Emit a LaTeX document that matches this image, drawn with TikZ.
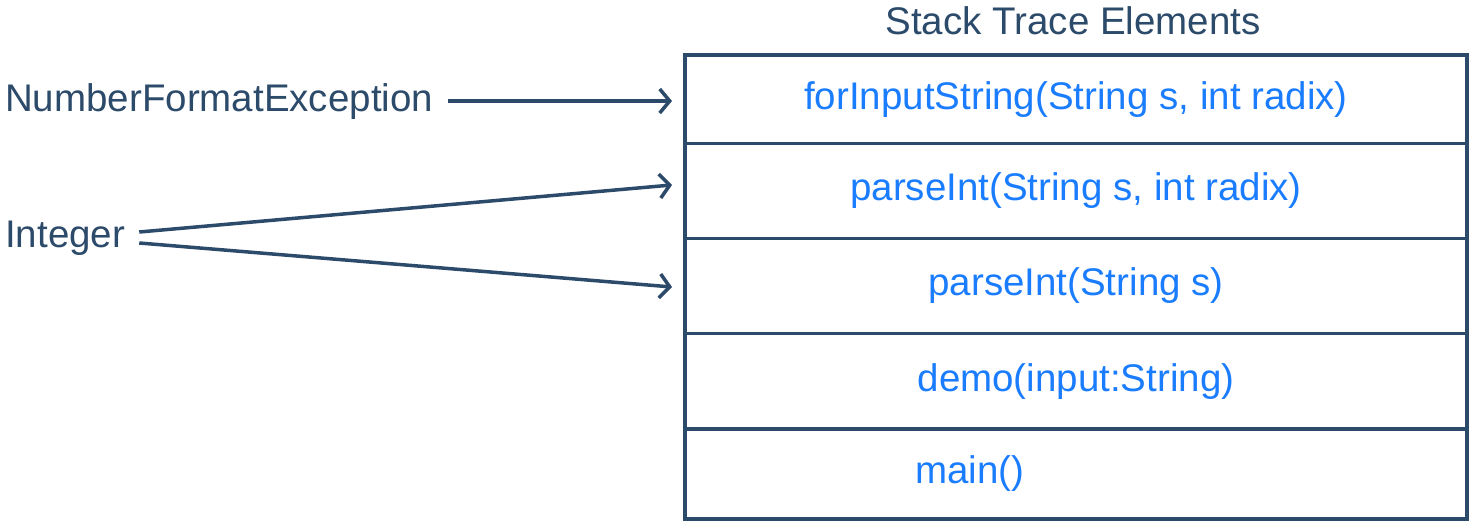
\documentclass[tikz,border=0pt]{standalone}
\usepackage{fontspec}
\setmainfont{Liberation Sans}
\usetikzlibrary{arrows.meta}
\definecolor{navy}{HTML}{2C4A6A}
\definecolor{callblue}{HTML}{1A7CFF}

\begin{document}
\begin{tikzpicture}[x=1pt,y=-1pt,font=\fontsize{38.5}{46}\selectfont,
  row/.style={draw=navy, line width=3.5pt, minimum width=782pt, inner sep=0pt, text=callblue},
  call/.style={text=callblue, inner sep=0pt},
  lbl/.style={text=navy, inner sep=0pt},
  link/.style={draw=navy, line width=3.5pt, -{Straight Barb[length=10pt,width=24pt]}}]
\useasboundingbox (0,0) rectangle (1474,529);
% stack frames
\node [lbl] (title) at (1073,21) {Stack Trace Elements};
\node [row, minimum height=88.5pt] (r1) at (1076,99.25) {forInputString(String s, int radix)};
\node [row, minimum height=95pt] (r2) at (1076,191) {parseInt(String s, int radix)};
\node [row, minimum height=95pt] (r3) at (1076,286) {parseInt(String s)};
\node [row, minimum height=95.5pt] (r4) at (1076,381.25) {demo(input:String)};
\node [row, minimum height=90pt] (r5) at (1076,474) {};
\node [call] (m) at (970,474) {main()};
% classes
\node [lbl, anchor=west] (nfe) at (5,102) {NumberFormatException};
\node [lbl, anchor=west] (int) at (5,238) {Integer};
\coordinate (t1) at (672,101);
\coordinate (t2) at (672,185);
\coordinate (t3) at (672,287);
\draw [link] ([shift={(15,-1)}]nfe.east) -- (t1);
\draw [link] ([shift={(14,-6)}]int.east) -- (t2);
\draw [link] ([shift={(14,5)}]int.east) -- (t3);
\end{tikzpicture}
\end{document}
